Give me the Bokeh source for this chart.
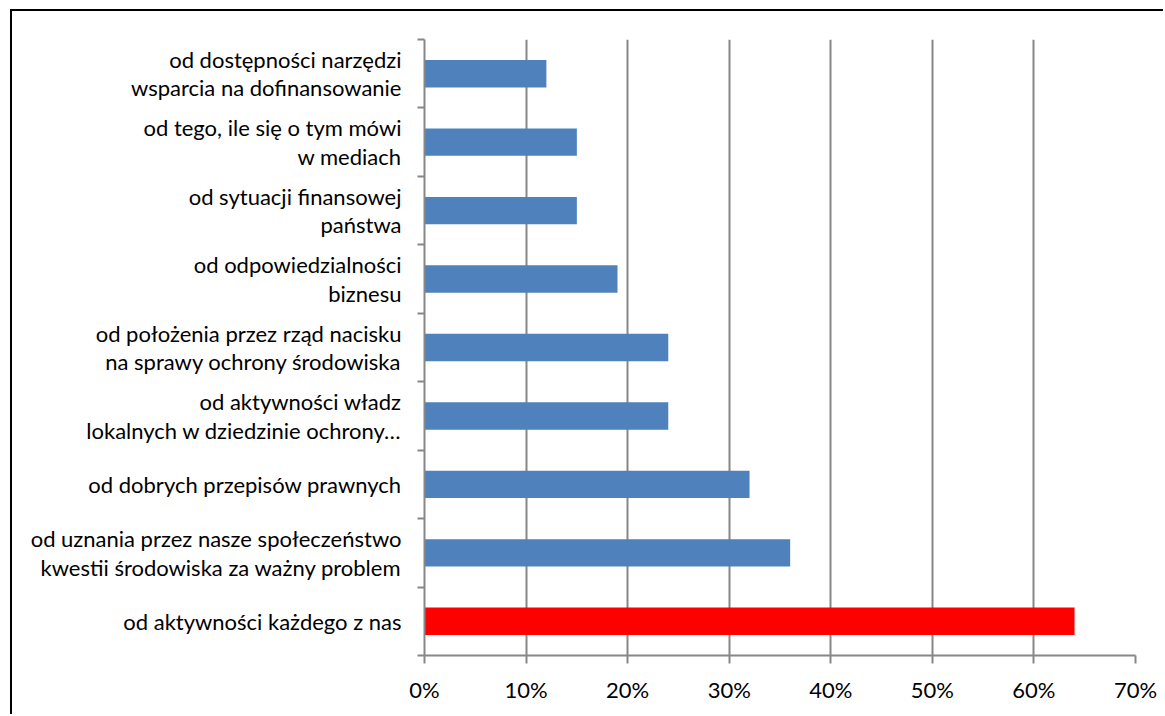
from bokeh.plotting import figure
from bokeh.models import Range1d, FixedTicker, NumeralTickFormatter
from bokeh.embed import file_html
from bokeh.resources import INLINE

categories = [
    "od dostępności narzędzi\nwsparcia na dofinansowanie",
    "od tego, ile się o tym mówi\nw mediach",
    "od sytuacji finansowej\npaństwa",
    "od odpowiedzialności\nbiznesu",
    "od położenia przez rząd nacisku\nna sprawy ochrony środowiska",
    "od aktywności władz\nlokalnych w dziedzinie ochrony…",
    "od dobrych przepisów prawnych",
    "od uznania przez nasze społeczeństwo\nkwestii środowiska za ważny problem",
    "od aktywności każdego z nas",
]
values = [0.12, 0.15, 0.15, 0.19, 0.24, 0.24, 0.32, 0.36, 0.64]
highlight = "od aktywności każdego z nas"
x_ticks = [0, 0.1, 0.2, 0.3, 0.4, 0.5, 0.6, 0.7]

BLUE = "#4F81BD"
RED = "#FF0000"
GRID = "#878787"
FONT = "Lato"

n = len(categories)
centers = [i + 0.5 for i in range(n)]
colors = [RED if c == highlight else BLUE for c in categories]

p = figure(width=1153, height=705, output_backend="svg", toolbar_location=None,
           x_range=Range1d(0, 0.7), y_range=Range1d(n, 0),
           min_border_left=412, min_border_top=28, min_border_right=30, min_border_bottom=61)
p.styles = {"margin-left": "10px", "margin-top": "9px",
            "border-left": "2px solid black", "border-top": "2px solid black"}
p.outline_line_color = None

p.hbar(y=centers, right=values, left=0, height=0.4, color=colors, line_color=None)

# x axis
p.xaxis.ticker = FixedTicker(ticks=x_ticks)
p.xaxis.formatter = NumeralTickFormatter(format="0%")
p.xaxis.axis_line_color = GRID
p.xaxis.axis_line_width = 2
p.xaxis.major_tick_line_color = GRID
p.xaxis.major_tick_line_width = 2
p.xaxis.major_tick_out = 8
p.xaxis.major_tick_in = 0
p.xaxis.minor_tick_line_color = None
p.xaxis.major_label_text_font = FONT
p.xaxis.major_label_text_font_size = "22px"
p.xaxis.major_label_text_color = "black"
p.xaxis.major_label_standoff = 12

# y axis
p.yaxis.ticker = FixedTicker(ticks=centers, minor_ticks=list(range(n + 1)))
p.yaxis.major_label_overrides = {c: lab for c, lab in zip(centers, categories)}
p.yaxis.axis_line_color = GRID
p.yaxis.axis_line_width = 2
p.yaxis.major_tick_line_color = None
p.yaxis.major_tick_out = 0
p.yaxis.major_tick_in = 0
p.yaxis.minor_tick_line_color = GRID
p.yaxis.minor_tick_line_width = 2
p.yaxis.minor_tick_out = 7
p.yaxis.minor_tick_in = 0
p.yaxis.major_label_text_font = FONT
p.yaxis.major_label_text_font_size = "22px"
p.yaxis.major_label_text_color = "black"
p.yaxis.major_label_standoff = 16
p.yaxis.major_label_text_line_height = 1.05

p.xgrid.grid_line_color = GRID
p.xgrid.grid_line_width = 2
p.ygrid.grid_line_color = None

open("out.html", "w").write(file_html(p, INLINE))
